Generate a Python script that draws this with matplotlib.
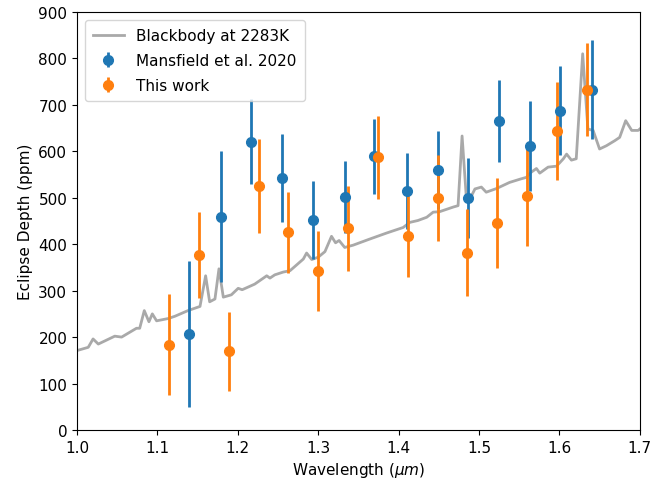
import matplotlib.pyplot as plt
import numpy as np

# blackbody curve (wavelength in um, depth in ppm)
bb_wave = [1.000, 1.014, 1.020, 1.0265, 1.047, 1.0555, 1.074, 1.078, 1.0837, 1.0895,
           1.0937, 1.099, 1.1136, 1.122, 1.138, 1.153, 1.160, 1.165, 1.1716, 1.1766,
           1.182, 1.192, 1.2005, 1.2055, 1.221, 1.236, 1.240, 1.246, 1.2565, 1.265,
           1.2815, 1.2856, 1.292, 1.300, 1.3084, 1.3166, 1.3216, 1.326, 1.333, 1.3436,
           1.364, 1.385, 1.4057, 1.414, 1.424, 1.435, 1.443, 1.451, 1.468, 1.474,
           1.479, 1.4845, 1.4886, 1.495, 1.503, 1.509, 1.522, 1.538, 1.551, 1.559,
           1.565, 1.5715, 1.5756, 1.586, 1.5965, 1.605, 1.609, 1.615, 1.621, 1.629,
           1.6355, 1.642, 1.650, 1.6585, 1.669, 1.675, 1.6825, 1.690, 1.698, 1.700]
bb_depth = [171, 178, 196, 185, 202, 200, 219, 219, 257, 233,
            250, 235, 240, 245, 257, 266, 332, 276, 282, 347,
            286, 291, 305, 302, 314, 332, 327, 334, 340, 343,
            368, 381, 367, 372, 384, 417, 403, 408, 393, 398,
            411, 424, 436, 447, 451, 458, 469, 470, 480, 483,
            633, 495, 497, 519, 523, 512, 520, 533, 540, 544,
            555, 563, 553, 566, 568, 584, 594, 581, 584, 810,
            648, 645, 605, 612, 623, 630, 666, 645, 645, 648]

# Mansfield et al. 2020
m_wave = [1.139, 1.1786, 1.217, 1.255, 1.294, 1.333, 1.369, 1.410, 1.4485, 1.486,
          1.525, 1.564, 1.6014, 1.6407]
m_depth = [207, 459, 621, 543, 452, 502, 589, 514, 560, 500, 665, 612, 687, 733]
m_err = [157, 141, 91, 95, 84, 78, 80, 82, 84, 86, 89, 97, 96, 106]

# this work
t_wave = [1.114, 1.1517, 1.189, 1.226, 1.263, 1.300, 1.337, 1.3747, 1.412, 1.4495,
          1.485, 1.523, 1.560, 1.597, 1.6346]
t_depth = [184, 377, 169, 525, 426, 343, 434, 587, 417, 499, 382, 445, 503, 644, 733]
t_err = [108, 93, 85, 101, 87, 86, 91, 89, 88, 93, 93, 97, 107, 105, 100]

plt.rcParams["font.size"] = 11

fig = plt.figure(figsize=(6.66, 4.81), dpi=100)
ax = fig.add_axes([0.1156, 0.104, 0.845, 0.869])

ax.plot(bb_wave, bb_depth, color="darkgray", lw=2, label="Blackbody at 2283K")
ax.errorbar(m_wave, m_depth, yerr=m_err, fmt="o", color="tab:blue", elinewidth=2,
            markersize=7, label="Mansfield et al. 2020")
ax.errorbar(t_wave, t_depth, yerr=t_err, fmt="o", color="tab:orange", elinewidth=2,
            markersize=7, label="This work")

ax.set_xlim(1.0, 1.7)
ax.set_ylim(0, 900)
ax.set_xlabel(r"Wavelength ($\mu m$)")
ax.set_ylabel("Eclipse Depth (ppm)")
ax.legend(loc="upper left", labelspacing=0.65, borderpad=0.55)

fig.savefig("out.png", dpi=100)
